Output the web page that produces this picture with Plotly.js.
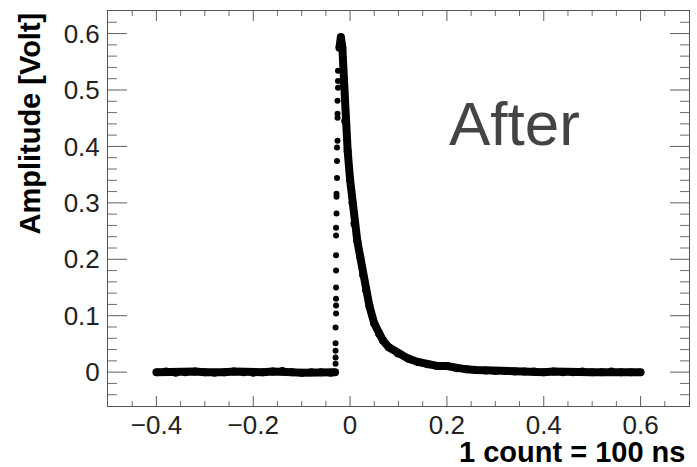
<!DOCTYPE html>
<html>
<head>
<meta charset="utf-8">
<script src="https://cdn.plot.ly/plotly-3.0.1.min.js"></script>
<style>html,body{margin:0;padding:0;background:#fff;}#chart{width:697px;height:467px;}</style>
</head>
<body>
<div id="chart"></div>
<script>
// Pre-pulse baseline (time in counts, amplitude in Volt)
const baseX = [-0.400,-0.380,-0.360,-0.340,-0.320,-0.300,-0.280,-0.260,-0.240,-0.220,-0.200,-0.180,-0.160,-0.140,-0.120,-0.100,-0.080,-0.060,-0.040,-0.031];
const baseY = [0.000,0.001,-0.001,0.000,0.001,0.000,-0.001,0.000,0.001,0.000,-0.001,0.000,0.001,0.002,0.000,-0.001,0.000,0.000,-0.001,0.000];

// Rising-edge samples (sparse dots)
const riseX = [-0.030,-0.030,-0.030,-0.030,-0.030,-0.029,-0.029,-0.029,-0.029,-0.029,-0.029,-0.029,-0.029,-0.028,-0.028,-0.028,-0.027,-0.027,-0.027,-0.026,-0.026,-0.026,-0.026,-0.025,-0.025,-0.025];
const riseY = [0.015,0.026,0.038,0.051,0.079,0.104,0.118,0.130,0.150,0.180,0.207,0.242,0.256,0.281,0.311,0.316,0.344,0.374,0.398,0.410,0.451,0.458,0.481,0.504,0.516,0.534];

// Peak and decay tail
const decayX = [-0.022,-0.019,-0.016,-0.013,-0.010,-0.005,0.000,0.005,0.009,0.015,0.021,0.027,0.033,0.040,0.050,0.060,0.068,0.080,0.099,0.120,0.140,0.160,0.180,0.200,0.220,0.240,0.260,0.280,0.300,0.320,0.340,0.360,0.380,0.400,0.420,0.440,0.460,0.480,0.500,0.520,0.540,0.560,0.580,0.600];
const decayY = [0.575,0.594,0.575,0.510,0.445,0.392,0.341,0.300,0.263,0.232,0.204,0.172,0.145,0.117,0.086,0.068,0.056,0.044,0.033,0.024,0.018,0.014,0.011,0.011,0.007,0.005,0.004,0.003,0.002,0.002,0.001,0.001,0.001,0.000,0.001,0.000,0.000,0.001,0.000,0.000,0.001,0.000,0.000,0.000];

// Axis tick settings (values)
const xRange = [-0.5, 0.7], xMajor = 0.2, xMinor = 0.05;
const yRange = [-0.06, 0.64], yMajor = 0.1, yMinor = 0.02;

const FONT = 'Liberation Sans, Arial, Helvetica, sans-serif';
const W = 697, H = 467, M = {l: 108, r: 8, t: 11, b: 61};
const plotW = W - M.l - M.r, plotH = H - M.t - M.b;

const traces = [
  {x: baseX, y: baseY, type: 'scatter', mode: 'lines+markers',
   line: {color: 'black', width: 8}, marker: {color: 'black', size: 8}},
  {x: riseX, y: riseY, type: 'scatter', mode: 'markers',
   marker: {color: 'black', size: 6}},
  {x: decayX, y: decayY, type: 'scatter', mode: 'lines+markers',
   line: {color: 'black', width: 8}, marker: {color: 'black', size: 8}}
];

// Tick positions from the axis steps (inside frame only)
function tickList(range, step) {
  const out = [];
  const start = Math.ceil(range[0] / step - 1e-9);
  const end = Math.floor(range[1] / step + 1e-9);
  for (let i = start; i <= end; i++) {
    const v = +(i * step).toFixed(6);
    if (v > range[0] + 1e-9 && v < range[1] - 1e-9) out.push(v);
  }
  return out;
}
function isMajor(v, step) { return Math.abs(v / step - Math.round(v / step)) < 1e-6; }

// Tick marks drawn through the axis scales, on all four sides, inside the frame
const shapes = [];
const xPerPx = (xRange[1] - xRange[0]) / plotW;
const yPerPx = (yRange[1] - yRange[0]) / plotH;
tickList(xRange, xMinor).forEach(v => {
  const major = isMajor(v, xMajor);
  const len = (major ? 10 : 5) * yPerPx;
  const col = major ? 'rgb(95,95,95)' : 'rgb(110,110,110)';
  shapes.push({type: 'line', xref: 'x', yref: 'y', x0: v, x1: v, y0: yRange[0], y1: yRange[0] + len, line: {color: col, width: 1}});
  shapes.push({type: 'line', xref: 'x', yref: 'y', x0: v, x1: v, y0: yRange[1], y1: yRange[1] - len, line: {color: col, width: 1}});
});
tickList(yRange, yMinor).forEach(v => {
  const major = isMajor(v, yMajor);
  const len = (major ? 19 : 9) * xPerPx;
  const col = major ? 'rgb(95,95,95)' : 'rgb(110,110,110)';
  shapes.push({type: 'line', xref: 'x', yref: 'y', y0: v, y1: v, x0: xRange[0], x1: xRange[0] + len, line: {color: col, width: 1}});
  shapes.push({type: 'line', xref: 'x', yref: 'y', y0: v, y1: v, x0: xRange[1], x1: xRange[1] - len, line: {color: col, width: 1}});
});

function axis(range, major, standoff) {
  return {
    range: range, dtick: major,
    showline: true, linecolor: 'rgb(85,85,85)', mirror: true,
    ticks: '', showgrid: false, zeroline: false,
    ticklabelstandoff: standoff,
    tickfont: {family: FONT, size: 26, color: 'rgb(34,34,34)'}
  };
}

const layout = {
  width: W, height: H,
  margin: M,
  showlegend: false,
  xaxis: axis(xRange, xMajor, -4),
  yaxis: axis(yRange, yMajor, 2),
  shapes: shapes,
  annotations: [
    {text: '<b>Amplitude [Volt]</b>', xref: 'paper', yref: 'paper', x: -0.135, y: 0.714,
     xanchor: 'center', yanchor: 'middle', textangle: -90, showarrow: false,
     font: {family: FONT, size: 29, color: 'black'}},
    {text: '<b>1 count = 100 ns</b>', xref: 'paper', yref: 'paper', x: 0.9966, y: -0.117,
     xanchor: 'right', yanchor: 'middle', showarrow: false,
     font: {family: FONT, size: 29, color: 'black'}},
    {text: 'After', xref: 'paper', yref: 'paper', x: 0.7005, y: 0.716,
     xanchor: 'center', yanchor: 'middle', showarrow: false,
     font: {family: FONT, size: 62, color: 'rgb(68,68,68)'}}
  ]
};

Plotly.newPlot('chart', traces, layout, {displayModeBar: false});
</script>
</body>
</html>
